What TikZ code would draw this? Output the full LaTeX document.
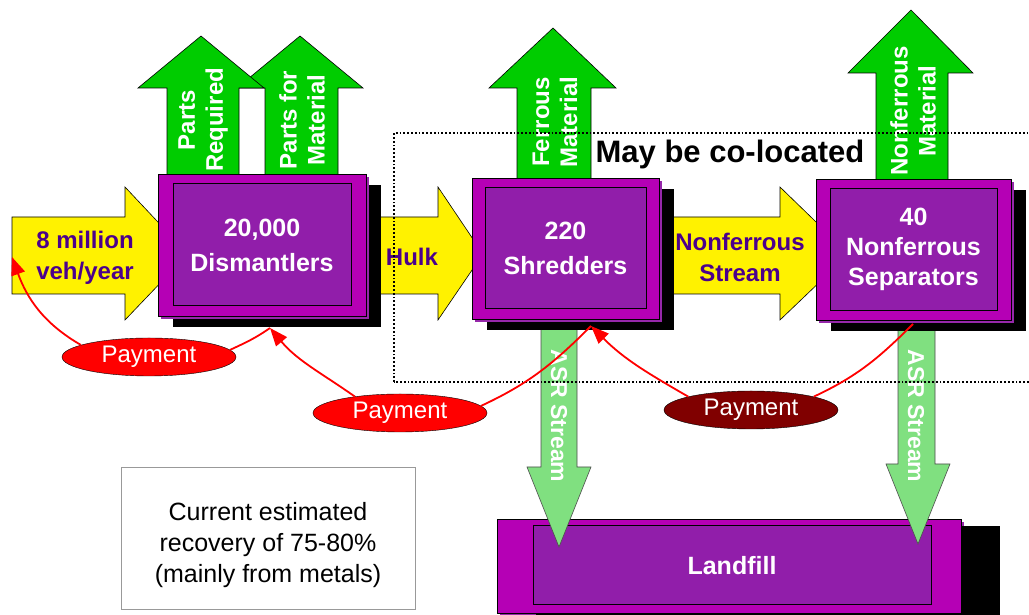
\documentclass[tikz,border=0pt]{standalone}
\usepackage{fontspec}
\setmainfont{Liberation Sans}
\usetikzlibrary{shapes.geometric,shadows,arrows.meta}
\definecolor{boxout}{RGB}{181,0,181}
\definecolor{boxin}{RGB}{145,30,170}
\definecolor{boxedge}{RGB}{150,40,170}
\definecolor{flowpurple}{RGB}{75,0,140}
\definecolor{partgreen}{RGB}{0,204,0}
\definecolor{asrgreen}{RGB}{128,224,128}
\definecolor{darkpay}{RGB}{128,0,0}
\begin{document}
\begin{tikzpicture} [x=1pt,y=1pt,
  yarrow/.style={draw=black, fill=yellow, line width=0.6pt},
  garrow/.style={draw=black, fill=partgreen, line width=0.6pt},
  asrarrow/.style={draw=black!70, fill=asrgreen, line width=0.6pt},
  outbox/.style={draw=black, fill=boxout, line width=0.6pt, inner sep=0pt, outer sep=0pt,
    general shadow={fill=black, shadow xshift=15pt, shadow yshift=-11pt},
    general shadow={fill=boxedge, shadow xshift=3pt, shadow yshift=-3pt}},
  inbox/.style={draw=black, fill=boxin, line width=1pt, inner sep=0pt, text=white, align=center},
  flowtxt/.style={text=flowpurple, align=center, font=\fontsize{24}{31}\selectfont\bfseries},
  gtxt/.style={text=white, align=center, font=\fontsize{24}{28}\selectfont\bfseries},
  asrtxt/.style={text=white, font=\fontsize{23}{26}\selectfont\bfseries},
  pay/.style={ellipse, draw=black, fill=red, text=white, minimum width=174pt, minimum height=38pt, inner sep=0pt, font=\fontsize{24}{28}\selectfont},
  payline/.style={red, line width=1.8pt},
  paytip/.style={-{Triangle[length=18pt,width=14pt]}}]

  \useasboundingbox (0,0) rectangle (1029,615);
  \clip (0,0) rectangle (1029,615);

  % landfill and note
  \node[outbox, minimum width=464pt, minimum height=94pt,
    general shadow={fill=black, shadow xshift=39pt, shadow yshift=-7pt}] (land) at (729,49) {};
  \node[inbox, minimum width=398pt, minimum height=79pt, font=\fontsize{25}{31}\selectfont\bfseries] (landin) at (732,49.5) {Landfill};

  \node[draw=black!40, line width=0.8pt, minimum width=294pt, minimum height=142pt] (note) at (268,77) {};
  \node[align=center, font=\fontsize{25}{31}\selectfont] (notetext) at (268,70) {Current estimated\\recovery of 75-80\%\\(mainly from metals)};

  % yellow flow arrows
  \filldraw[yarrow] (12,398) -- (125,398) -- (125,428) -- (188,361) -- (125,295) -- (125,321) -- (12,321) -- cycle;
  \filldraw[yarrow] (360,398) -- (438,398) -- (438,428) -- (483,361) -- (438,295) -- (438,321) -- (360,321) -- cycle;
  \filldraw[yarrow] (670,398) -- (780,398) -- (780,428) -- (849,361) -- (780,295) -- (780,321) -- (670,321) -- cycle;
  \node[flowtxt] (veh) at (85,357) {8 million\\veh/year};
  \node[flowtxt] (hulk) at (412,358) {Hulk};
  \node[flowtxt] (nfstream) at (740,358) {Nonferrous\\Stream};

  % green output arrows
  \filldraw[garrow] (265,430) -- (265,527) -- (237,527) -- (300,579) -- (363,527) -- (338,527) -- (338,430) -- cycle;
  \filldraw[garrow] (167,430) -- (167,527) -- (138,527) -- (201,579) -- (264,527) -- (239,527) -- (239,430) -- cycle;
  \filldraw[garrow] (517,430) -- (517,527) -- (489,527) -- (553,587) -- (616,527) -- (591,527) -- (591,430) -- cycle;
  \filldraw[garrow] (876,430) -- (876,542) -- (848,542) -- (911,605) -- (973,542) -- (948,542) -- (948,430) -- cycle;
  \node[gtxt, rotate=90] (preq) at (203,495) {Parts\\Required};
  \node[gtxt, rotate=90] (pmat) at (302,495) {Parts for\\Material};
  \node[gtxt, rotate=90] (ferr) at (555,493) {Ferrous\\Material};
  \node[gtxt, rotate=90] (nonferr) at (913,504) {Nonferrous\\Material};

  % ASR streams
  \filldraw[asrarrow] (541,300) -- (541,148) -- (527,148) -- (559,68) -- (591,148) -- (577,148) -- (577,300) -- cycle;
  \filldraw[asrarrow] (898,300) -- (898,151) -- (886,151) -- (918,71) -- (950,151) -- (935,151) -- (935,300) -- cycle;
  \node[asrtxt, rotate=-90] (asr1) at (559,199) {ASR Stream};
  \node[asrtxt, rotate=-90] (asr2) at (916,199) {ASR Stream};

  % facilities
  \node[outbox, minimum width=208pt, minimum height=142pt] (dis) at (262,370) {};
  \node[inbox, minimum width=178pt, minimum height=122pt, font=\fontsize{25}{35}\selectfont\bfseries] (disin) at (dis) {20,000\\Dismantlers};
  \node[outbox, minimum width=187pt, minimum height=141pt] (shr) at (565.5,366.5) {};
  \node[inbox, minimum width=161pt, minimum height=121pt, font=\fontsize{25}{35}\selectfont\bfseries] (shrin) at (shr) {220\\Shredders};
  \node[outbox, minimum width=195pt, minimum height=141pt] (sep) at (913.5,365.5) {};
  \node[inbox, minimum width=167pt, minimum height=122pt, font=\fontsize{25}{30}\selectfont\bfseries] (sepin) at (sep) {40\\Nonferrous\\Separators};

  % co-location
  \draw[line width=1.8pt, dash pattern=on 1.8pt off 2pt] (394,233) rectangle (1040,482);
  \node[font=\fontsize{31}{36}\selectfont\bfseries] (coloc) at (730,461) {May be co-located};

  % payments
  \coordinate (vehpay) at (12,358);
  \coordinate (dispay) at (270,287);
  \coordinate (shrpay) at (591,289);
  \coordinate (seppay) at (913,291);
  \node[pay] (pay1) at (149,258) {Payment};
  \node[pay] (pay2) at (400,202) {Payment};
  \node[pay, fill=darkpay] (pay3) at (751,205) {Payment};

  \draw[payline] (dispay) to[out=215,in=25] (pay1.5);
  \draw[payline, paytip] (pay1.170) to[out=150,in=-70] (vehpay);
  \draw[payline] (shrpay) to[out=225,in=25] (pay2.5);
  \draw[payline, paytip] (pay2.160) to[out=145,in=-50] (dispay);
  \draw[payline] (seppay) to[out=225,in=25] (pay3.12);
  \draw[payline, paytip] (pay3.168) to[out=150,in=-45] (shrpay);

\end{tikzpicture}
\end{document}
